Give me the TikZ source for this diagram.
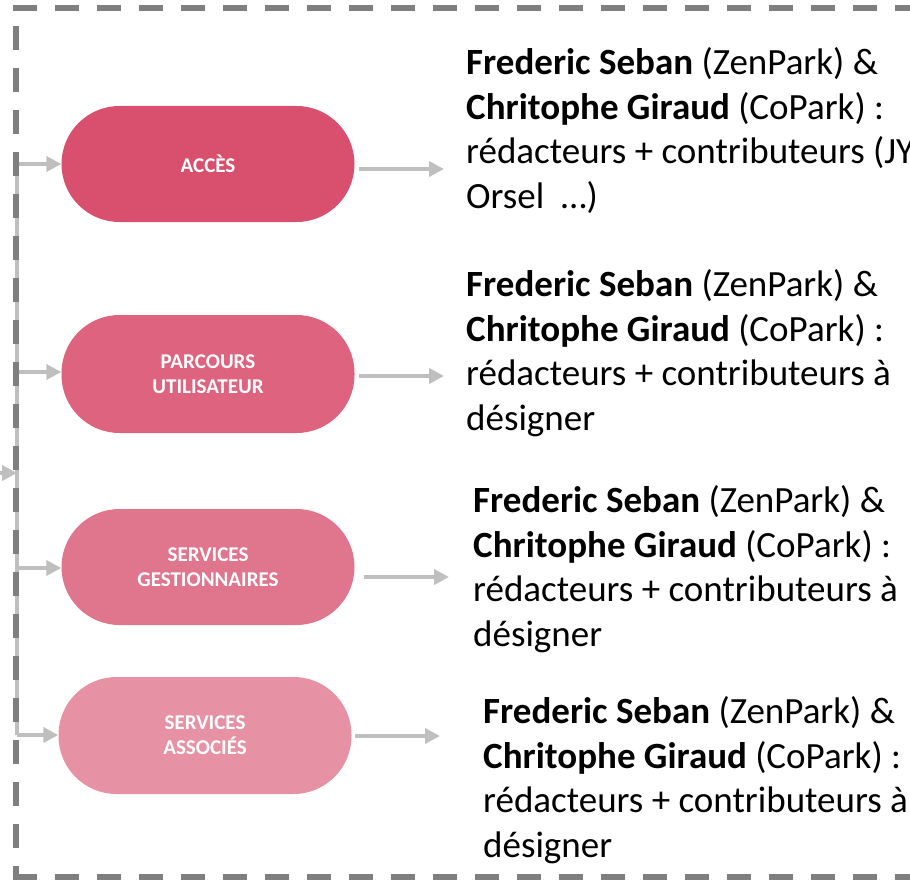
\documentclass[tikz,border=0pt]{standalone}
\usepackage{fontspec}
\setmainfont{Carlito}
\usetikzlibrary{arrows.meta}
\definecolor{pinkAcces}{HTML}{D9506F}
\definecolor{pinkParcours}{HTML}{DD637F}
\definecolor{pinkGestion}{HTML}{E0758E}
\definecolor{pinkAssoc}{HTML}{E691A4}
\definecolor{linkgray}{HTML}{BFBFBF}
\definecolor{framegray}{HTML}{7F7F7F}

\begin{document}
\begin{tikzpicture}[x=1pt, y=-1pt,
   phase/.style = {rectangle, rounded corners=58pt, minimum width=293pt, minimum height=116pt,
                   inner sep=0pt, text=white, align=center, font=\fontsize{21}{25}\selectfont\bfseries},
   link/.style = {draw=linkgray, line width=4.5pt, -{Triangle[length=15pt,width=15pt]}},
   frame/.style = {draw=framegray, line width=5.5pt, dash pattern=on 24pt off 18pt},
   who/.style = {anchor=base west, align=left, inner sep=0pt, font=\fontsize{37}{44.5}\selectfont}]
   \useasboundingbox (0,0) rectangle (910,880);

   \node[phase, fill=pinkAcces] (acces) at (208,164) {ACCÈS};
   \node[phase, fill=pinkParcours, minimum height=118pt] (parcours) at (208,374) {PARCOURS\\UTILISATEUR};
   \node[phase, fill=pinkGestion] (gestion) at (208,567) {SERVICES\\GESTIONNAIRES};
   \node[phase, fill=pinkAssoc, minimum height=117pt] (assoc) at (205,735.5) {SERVICES\\ASSOCIÉS};

   \node[who] (whoAcces) at (466,208) {\textbf{Frederic Seban} (ZenPark) \&\\
      \textbf{Chritophe Giraud} (CoPark) :\\
      rédacteurs + contributeurs (JY\\
      Orsel\ \ …)};
   \node[who] (whoParcours) at (466,430) {\textbf{Frederic Seban} (ZenPark) \&\\
      \textbf{Chritophe Giraud} (CoPark) :\\
      rédacteurs + contributeurs à\\
      désigner};
   \node[who] (whoGestion) at (473,646) {\textbf{Frederic Seban} (ZenPark) \&\\
      \textbf{Chritophe Giraud} (CoPark) :\\
      rédacteurs + contributeurs à\\
      désigner};
   \node[who] (whoAssoc) at (483,857) {\textbf{Frederic Seban} (ZenPark) \&\\
      \textbf{Chritophe Giraud} (CoPark) :\\
      rédacteurs + contributeurs à\\
      désigner};

   \coordinate (b1) at (17,164);
   \coordinate (b2) at (17,372);
   \coordinate (b3) at (17,568);
   \coordinate (b4) at (17,735);
   \coordinate (in) at (0,473);
   \coordinate (t1) at (444,169);
   \coordinate (t2) at (444,376);
   \coordinate (t3) at (449,577);
   \coordinate (t4) at (440,736);

   \draw[draw=linkgray, line width=3.5pt] (b1) -- (b4);
   \draw[link] (in) -- (in -| b1);
   \draw[link] (b1) -- (b1 -| acces.west);
   \draw[link] (b2) -- (b2 -| parcours.west);
   \draw[link] (b3) -- (b3 -| gestion.west);
   \draw[link] (b4) -- (b4 -| assoc.west);
   \draw[link, shorten <=4pt] (acces.east |- t1) -- (t1);
   \draw[link, shorten <=4pt] (parcours.east |- t2) -- (t2);
   \draw[link, shorten <=9pt] (gestion.east |- t3) -- (t3);
   \draw[link, shorten <=3pt] (assoc.east |- t4) -- (t4);

   \draw[frame] (13,8) -- (930,8);
   \draw[frame, dash phase=24pt] (16,8) -- (16,877);
   \draw[frame] (13,877) -- (930,877);
\end{tikzpicture}
\end{document}
